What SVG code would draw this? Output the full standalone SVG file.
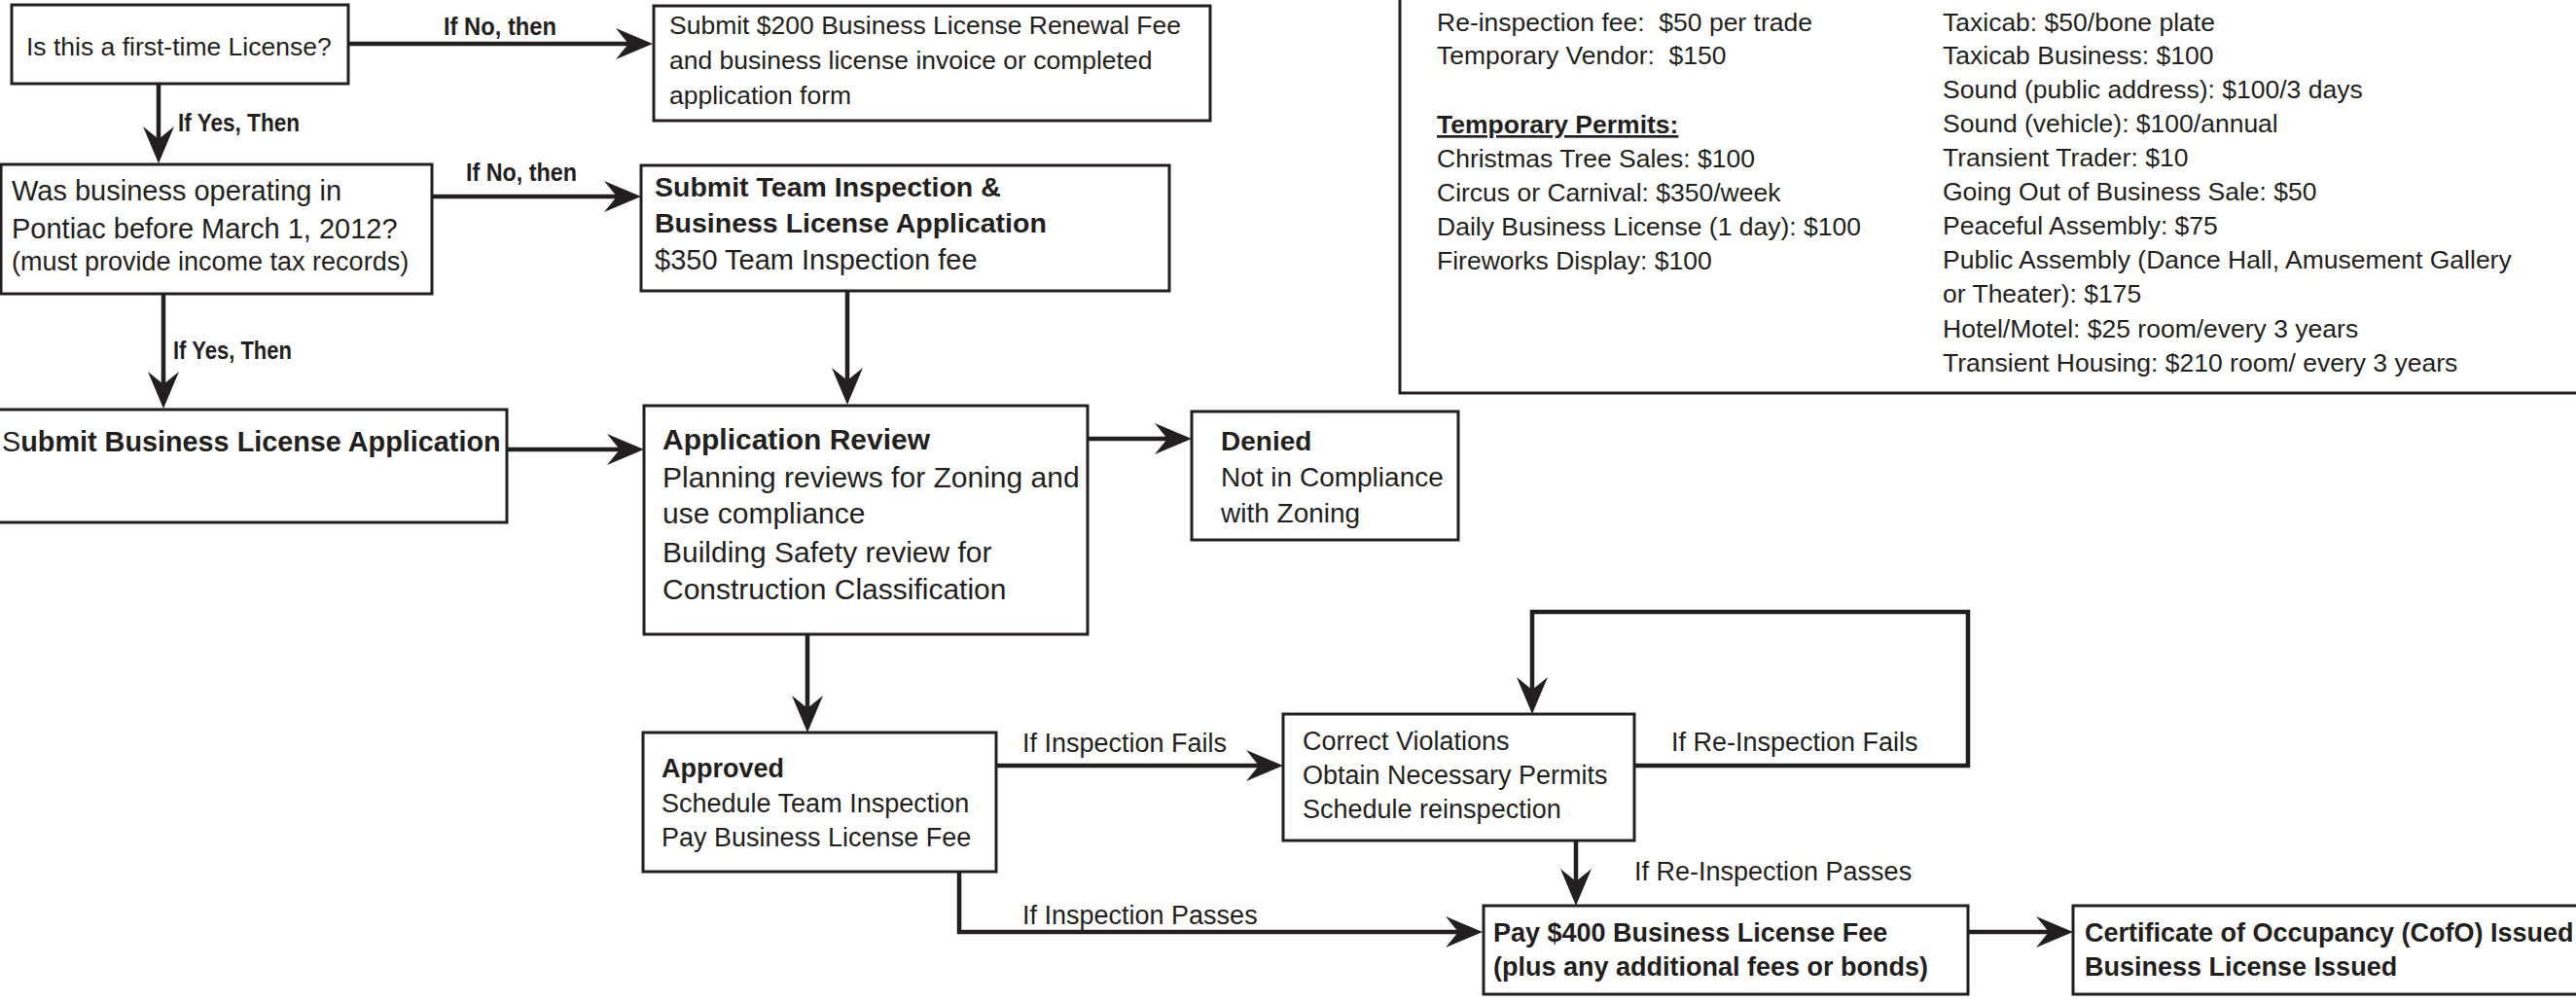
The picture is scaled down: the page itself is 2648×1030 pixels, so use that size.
<svg xmlns="http://www.w3.org/2000/svg" width="2648" height="1030" viewBox="0 0 2648 1030">
<style>
text{font-family:"Liberation Sans",Arial,sans-serif;fill:#231f20}
.box{fill:#fff;stroke:#231f20;stroke-width:3}
.conn{fill:none;stroke:#231f20;stroke-width:4.5}
.r26{font-size:26.5px}
.r27{font-size:27px}
.r28{font-size:28px}
.r29{font-size:29px}
.r30{font-size:30px}
.b{font-weight:bold}
.pre{white-space:pre}
.lbl{font-size:26px;font-weight:bold}
</style>
<defs>
<marker id="ah" markerUnits="userSpaceOnUse" markerWidth="40" markerHeight="34" viewBox="0 0 40 34" refX="28" refY="17" orient="auto">
<path d="M0,1 L38,17 L0,33 L13,17 Z" fill="#231f20"/>
</marker>
</defs>
<rect width="2648" height="1030" fill="#fff"/>

<g id="fees">
<rect class="box" x="1439" y="-10" width="1230" height="414"/>
<g class="r26">
<text class="pre" x="1477" y="32" xml:space="preserve">Re-inspection fee:  $50 per trade</text>
<text class="pre" x="1477" y="66" xml:space="preserve">Temporary Vendor:  $150</text>
<text x="1477" y="137" class="b" text-decoration="underline">Temporary Permits:</text>
<text x="1477" y="172">Christmas Tree Sales: $100</text>
<text x="1477" y="207">Circus or Carnival: $350/week</text>
<text x="1477" y="242">Daily Business License (1 day): $100</text>
<text x="1477" y="277">Fireworks Display: $100</text>
<text x="1997" y="32">Taxicab: $50/bone plate</text>
<text x="1997" y="66">Taxicab Business: $100</text>
<text x="1997" y="101">Sound (public address): $100/3 days</text>
<text x="1997" y="136">Sound (vehicle): $100/annual</text>
<text x="1997" y="171">Transient Trader: $10</text>
<text x="1997" y="206">Going Out of Business Sale: $50</text>
<text x="1997" y="241">Peaceful Assembly: $75</text>
<text x="1997" y="276">Public Assembly (Dance Hall, Amusement Gallery</text>
<text x="1997" y="311">or Theater): $175</text>
<text x="1997" y="347">Hotel/Motel: $25 room/every 3 years</text>
<text x="1997" y="382">Transient Housing: $210 room/ every 3 years</text>
</g>
</g>

<g id="connectors">
<path class="conn" d="M358,45 H661" marker-end="url(#ah)"/>
<path class="conn" d="M163,86 V158" marker-end="url(#ah)"/>
<path class="conn" d="M444,202 H649" marker-end="url(#ah)"/>
<path class="conn" d="M168,302 V410" marker-end="url(#ah)"/>
<path class="conn" d="M521,462 H652" marker-end="url(#ah)"/>
<path class="conn" d="M871,299 V406" marker-end="url(#ah)"/>
<path class="conn" d="M1118,451 H1215" marker-end="url(#ah)"/>
<path class="conn" d="M830,652 V743" marker-end="url(#ah)"/>
<path class="conn" d="M1024,787 H1309" marker-end="url(#ah)"/>
<path class="conn" d="M1680,787 H2023 V629 H1575 V724" marker-end="url(#ah)"/>
<path class="conn" d="M986,896 V958 H1514" marker-end="url(#ah)"/>
<path class="conn" d="M1620,864 V921" marker-end="url(#ah)"/>
<path class="conn" d="M2023,958 H2121" marker-end="url(#ah)"/>
<text class="lbl" x="456" y="36" textLength="116" lengthAdjust="spacingAndGlyphs">If No, then</text>
<text class="lbl" x="183" y="135" textLength="125" lengthAdjust="spacingAndGlyphs">If Yes, Then</text>
<text class="lbl" x="479" y="186" textLength="114" lengthAdjust="spacingAndGlyphs">If No, then</text>
<text class="lbl" x="178" y="369" textLength="122" lengthAdjust="spacingAndGlyphs">If Yes, Then</text>
<text class="r27" x="1051" y="773">If Inspection Fails</text>
<text class="r27" x="1718" y="772">If Re-Inspection Fails</text>
<text class="r27" x="1680" y="905">If Re-Inspection Passes</text>
<text class="r27" x="1051" y="950">If Inspection Passes</text>
</g>

<g id="first-time">
<rect class="box" x="12" y="5" width="346" height="81"/>
<text class="r26" x="27" y="57">Is this a first-time License?</text>
</g>

<g id="renewal">
<rect class="box" x="672" y="6" width="572" height="118"/>
<text class="r26" x="688" y="35">Submit $200 Business License Renewal Fee</text>
<text class="r26" x="688" y="71">and business license invoice or completed</text>
<text class="r26" x="688" y="107">application form</text>
</g>

<g id="operating">
<rect class="box" x="1" y="169" width="443" height="133"/>
<text class="r29" x="12" y="206">Was business operating in</text>
<text class="r29" x="12" y="245">Pontiac before March 1, 2012?</text>
<text class="r27" x="12" y="278">(must provide income tax records)</text>
</g>

<g id="team-inspection">
<rect class="box" x="659" y="170" width="543" height="129"/>
<text class="b" font-size="28.5" x="673" y="202">Submit Team Inspection &amp;</text>
<text class="b" font-size="28.5" x="673" y="239">Business License Application</text>
<text class="r29" x="673" y="277">$350 Team Inspection fee</text>
</g>

<g id="submit-application">
<rect class="box" x="-5" y="421" width="526" height="116"/>
<text class="b" font-size="28.8" x="2" y="464"><tspan font-weight="normal">S</tspan>ubmit Business License Application</text>
</g>

<g id="application-review">
<rect class="box" x="662" y="417" width="456" height="235"/>
<text class="r30 b" x="681" y="462">Application Review</text>
<text class="r30" x="681" y="501">Planning reviews for Zoning and</text>
<text class="r30" x="681" y="538">use compliance</text>
<text class="r30" x="681" y="578">Building Safety review for</text>
<text class="r30" x="681" y="616">Construction Classification</text>
</g>

<g id="denied">
<rect class="box" x="1225" y="423" width="274" height="132"/>
<text class="r28 b" x="1255" y="463">Denied</text>
<text class="r28" x="1255" y="500">Not in Compliance</text>
<text class="r28" x="1255" y="537">with Zoning</text>
</g>

<g id="approved">
<rect class="box" x="661" y="753" width="363" height="143"/>
<text class="r27 b" x="680" y="799">Approved</text>
<text class="r27" x="680" y="835">Schedule Team Inspection</text>
<text class="r27" x="680" y="870">Pay Business License Fee</text>
</g>

<g id="correct-violations">
<rect class="box" x="1319" y="734" width="361" height="130"/>
<text class="r27" x="1339" y="771">Correct Violations</text>
<text class="r27" x="1339" y="806">Obtain Necessary Permits</text>
<text class="r27" x="1339" y="841">Schedule reinspection</text>
</g>

<g id="pay-fee">
<rect class="box" x="1525" y="931" width="498" height="91"/>
<text class="r27 b" x="1535" y="968">Pay $400 Business License Fee</text>
<text class="r27 b" x="1535" y="1003">(plus any additional fees or bonds)</text>
</g>

<g id="certificate">
<rect class="box" x="2131" y="931" width="540" height="91"/>
<text class="r27 b" x="2143" y="968">Certificate of Occupancy (CofO) Issued</text>
<text class="r27 b" x="2143" y="1003">Business License Issued</text>
</g>
</svg>
